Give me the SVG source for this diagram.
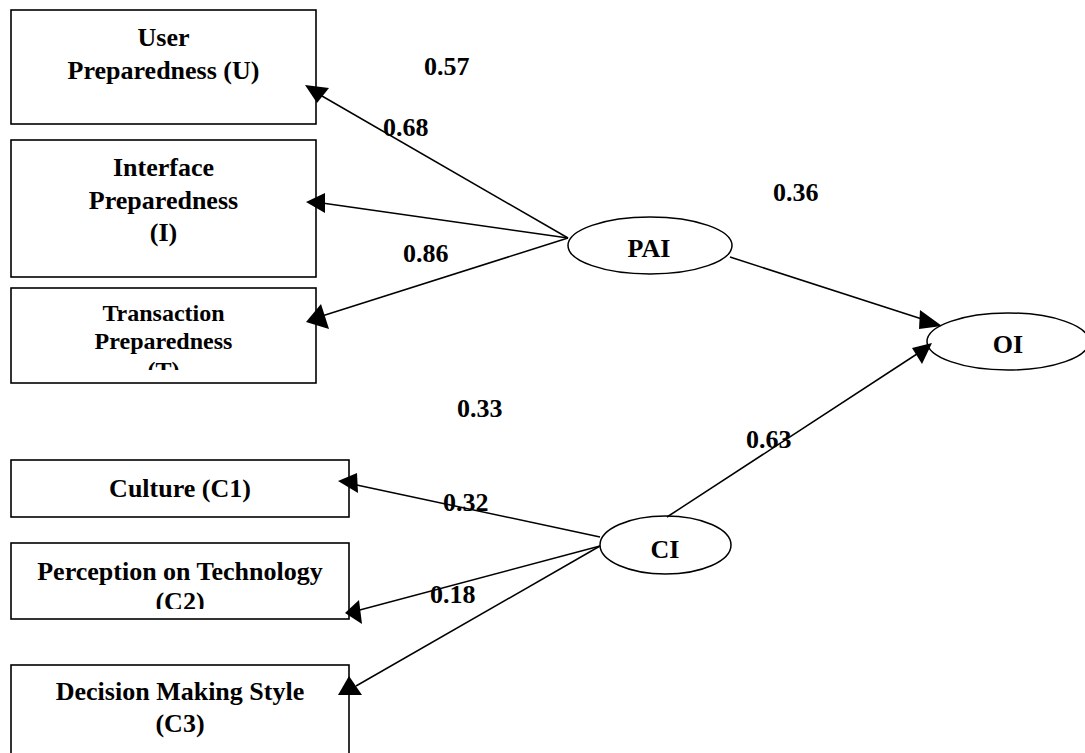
<svg xmlns="http://www.w3.org/2000/svg" width="1085" height="753" viewBox="0 0 1085 753">
<style>
.box{fill:#fff;stroke:#000;stroke-width:1.6}
.ell{fill:#fff;stroke:#000;stroke-width:1.5}
.t{font-family:"Liberation Serif","Times New Roman",serif;font-weight:bold;font-size:26px;fill:#000;text-anchor:middle}
.ts{font-size:24px}
.lbl{font-family:"Liberation Serif","Times New Roman",serif;font-weight:bold;font-size:26px;fill:#000}
.ln{stroke:#000;stroke-width:1.5;fill:none}
.ah{fill:#000;stroke:none}
</style>
<defs>
<clipPath id="clipT"><rect x="11" y="288" width="306" height="82"/></clipPath>
<clipPath id="clipC2"><rect x="11" y="543" width="339" height="66"/></clipPath>
</defs>
<rect width="1085" height="753" fill="#fff"/>
<g id="node-U">
<rect class="box" x="11" y="10" width="305" height="114"/>
<text class="t" x="163.5" y="46">User</text>
<text class="t" x="163.5" y="79">Preparedness (U)</text>
</g>
<g id="node-I">
<rect class="box" x="11" y="140" width="305" height="137"/>
<text class="t" x="163.5" y="176">Interface</text>
<text class="t" x="163.5" y="208.5">Preparedness</text>
<text class="t" x="163.5" y="241">(I)</text>
</g>
<g id="node-T">
<rect class="box" x="11" y="288" width="305" height="95"/>
<g clip-path="url(#clipT)">
<text class="t ts" x="163.5" y="321">Transaction</text>
<text class="t ts" x="163.5" y="349">Preparedness</text>
<text class="t ts" x="163.5" y="378">(T)</text>
</g>
</g>
<g id="node-C1">
<rect class="box" x="11" y="460" width="338" height="57"/>
<text class="t" x="180" y="497">Culture (C1)</text>
</g>
<g id="node-C2">
<rect class="box" x="11" y="543" width="338" height="76"/>
<g clip-path="url(#clipC2)">
<text class="t" x="180" y="580">Perception on Technology</text>
<text class="t" x="180" y="610">(C2)</text>
</g>
</g>
<g id="node-C3">
<rect class="box" x="11" y="665" width="338" height="100"/>
<text class="t" x="180" y="700">Decision Making Style</text>
<text class="t" x="180" y="732">(C3)</text>
</g>
<g id="node-PAI">
<ellipse class="ell" cx="650" cy="245.5" rx="82" ry="28.5"/>
<text class="t" x="649" y="257">PAI</text>
</g>
<g id="node-CI">
<ellipse class="ell" cx="665.5" cy="545" rx="65.5" ry="29"/>
<text class="t" x="665" y="558">CI</text>
</g>
<g id="node-OI">
<ellipse class="ell" cx="1008" cy="341.5" rx="81" ry="28.5"/>
<text class="t" x="1008" y="353">OI</text>
</g>
<g id="connectors">
<line class="ln" x1="568" y1="238" x2="322" y2="96"/>
<polygon class="ah" points="305,85 329,88 317,103"/>
<line class="ln" x1="568" y1="238" x2="322" y2="203"/>
<polygon class="ah" points="306,202 325,193 325,213"/>
<line class="ln" x1="568" y1="238" x2="322" y2="316"/>
<polygon class="ah" points="306,322 321,304 329,329"/>
<line class="ln" x1="730" y1="257" x2="925" y2="320"/>
<polygon class="ah" points="920,310 942,326 919,329"/>
<line class="ln" x1="667" y1="517" x2="920" y2="352"/>
<polygon class="ah" points="912,348 932,343 922,364"/>
<line class="ln" x1="600" y1="537" x2="352" y2="484"/>
<polygon class="ah" points="338,481 357,473 358,493"/>
<line class="ln" x1="600" y1="546" x2="356" y2="611"/>
<polygon class="ah" points="345,613 359,600 362,624"/>
<line class="ln" x1="600" y1="546" x2="356" y2="686"/>
<polygon class="ah" points="349,676 338,695 362,695"/>
</g>
<g id="labels">
<text class="lbl" x="424" y="75">0.57</text>
<text class="lbl" x="383" y="136">0.68</text>
<text class="lbl" x="773" y="201">0.36</text>
<text class="lbl" x="403" y="262">0.86</text>
<text class="lbl" x="457" y="417">0.33</text>
<text class="lbl" x="746" y="448">0.63</text>
<text class="lbl" x="443" y="511">0.32</text>
<text class="lbl" x="430" y="603">0.18</text>
</g>
</svg>
